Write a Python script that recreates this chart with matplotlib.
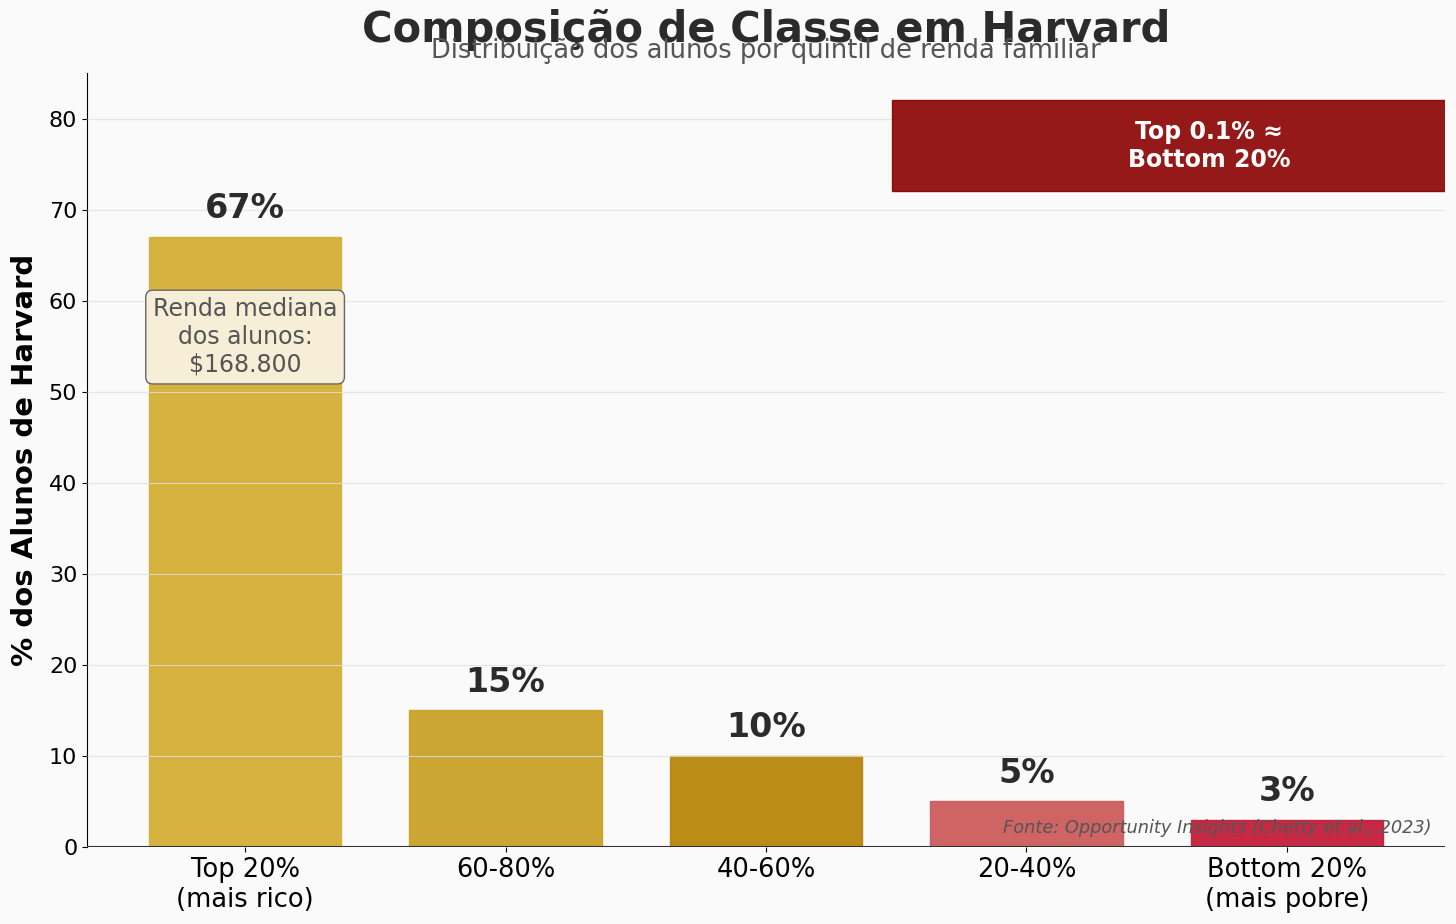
import matplotlib
matplotlib.use("Agg")
import matplotlib.pyplot as plt
from matplotlib.patches import Rectangle

categories = ["Top 20%\n(mais rico)", "60-80%", "40-60%", "20-40%", "Bottom 20%\n(mais pobre)"]
values = [67, 15, 10, 5, 3]
colors = ["#D4AF37", "#C9A227", "#B8860B", "#CD5C5C", "#C41E3A"]
yticks = [0, 10, 20, 30, 40, 50, 60, 70, 80]

plt.rcParams['font.family'] = ['DejaVu Sans']
fig = plt.figure(figsize=(14.56, 9.24), dpi=100, facecolor="#FAFAFA")
ax = fig.add_axes([87/1456, 1 - 847/924, (1445-87)/1456, (847-73)/924])
ax.set_facecolor("#FAFAFA")

x = list(range(len(categories)))
ax.bar(x, values, width=0.74, color=colors, alpha=0.95, edgecolor=colors, linewidth=1, zorder=2)
ax.axhline(0, color="#333333", linewidth=1.5, zorder=3)

for xi, v in zip(x, values):
    ax.text(xi, v + 1.3, f"{v}%", ha="center", va="bottom", fontsize=24, fontweight="bold", color="#2B2B2B", zorder=4)

ax.set_xlim(-0.607, 4.607)
ax.set_ylim(0, 85)
ax.set_yticks(yticks)
ax.set_xticks(x)
ax.set_xticklabels(categories, fontsize=18.5)
ax.tick_params(axis="y", labelsize=16)
ax.grid(axis="y", color="#E0E0E0", linewidth=0.8, alpha=0.8, zorder=0)
ax.set_axisbelow(False)
for s in ["top", "right"]:
    ax.spines[s].set_visible(False)
ax.spines["bottom"].set_visible(False)
ax.set_ylabel("% dos Alunos de Harvard", fontsize=21, fontweight="bold", labelpad=7)

ax.text(0, 56, "Renda mediana\ndos alunos:\n$168.800", ha="center", va="center", fontsize=17, color="#555555",
        bbox=dict(boxstyle="round,pad=0.3", facecolor="#F7EED8", edgecolor="#666666", linewidth=1), zorder=5)

ax.add_patch(Rectangle((2.485, 72), 2.3, 10, facecolor="#8B0000", edgecolor="#8B0000", alpha=0.9, zorder=5, clip_on=True))
ax.text(3.7, 77, "Top 0.1% ≈\nBottom 20%", ha="center", va="center", fontsize=17, fontweight="bold", color="white", zorder=6)

ax.text(0.99, 0.013, "Fonte: Opportunity Insights (Chetty et al., 2023)", transform=ax.transAxes, ha="right", va="bottom",
        fontsize=12.8, style="italic", color="#555555", zorder=6)

fig.text(766/1456, 1 - 30/924, "Composição de Classe em Harvard", ha="center", va="center", fontsize=30, fontweight="bold", color="#2B2B2B")
fig.text(766/1456, 1 - 51/924, "Distribuição dos alunos por quintil de renda familiar", ha="center", va="center", fontsize=18.5, color="#555555")

fig.savefig("out.png", dpi=100, facecolor="#FAFAFA")
